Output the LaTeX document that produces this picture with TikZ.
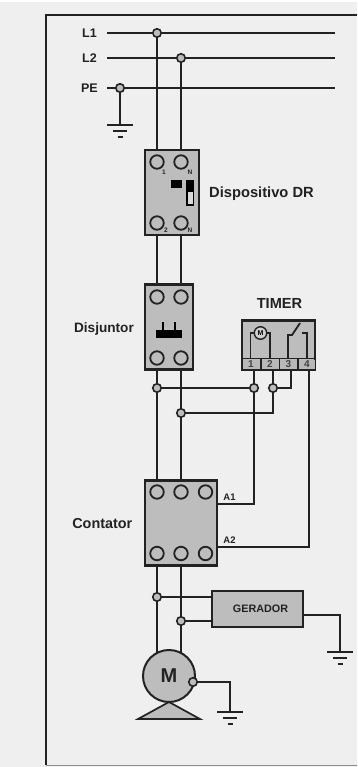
\documentclass[tikz,border=0pt]{standalone}
\usepackage{fontspec}
\setmainfont{Liberation Sans}
\definecolor{bg}{HTML}{EFEFEF}
\definecolor{ink}{HTML}{222222}
\definecolor{fillg}{HTML}{BDBDBD}
\tikzset{
 wire/.style={draw=ink,line width=2pt},
 box/.style={draw=ink,fill=fillg,line width=2.4pt},
 term/.style={circle,draw=ink,fill=fillg,line width=1.8pt,minimum size=13.5pt,inner sep=0pt},
 junc/.style={circle,draw=ink,fill=fillg,line width=1.6pt,minimum size=8.5pt,inner sep=0pt},
 lab/.style={font=\bfseries\fontsize{14.4}{16}\selectfont,text=ink,inner sep=0pt},
 small lab/.style={font=\bfseries\fontsize{12.5}{14}\selectfont,text=ink,inner sep=0pt},
 tiny/.style={font=\bfseries\fontsize{6.5}{7}\selectfont,text=ink,inner sep=0pt},
 tnum/.style={font=\bfseries\fontsize{10}{11}\selectfont,text=ink!85,inner sep=0pt},
}
\newcommand{\gnd}[2]{%
 \draw[wire] (#1-13,#2) -- (#1+13,#2);
 \draw[wire] (#1-7,#2+6) -- (#1+7,#2+6);
 \draw[wire] (#1-2.5,#2+12) -- (#1+2.5,#2+12);}
\begin{document}
\begin{tikzpicture}[x=1pt,y=-1pt]
\useasboundingbox (0,0) rectangle (357,767);
\fill[bg] (0,2) rectangle (357,767);
\draw[ink,line width=2pt] (357,15) -- (46,15) -- (46,765);
\draw[black!45,line width=1pt] (46,765.5) -- (357,765.5);
\coordinate (l1s) at (107,33); \coordinate (l1e) at (335,33);
\coordinate (l2s) at (107,58); \coordinate (l2e) at (335,58);
\coordinate (pes) at (107,88); \coordinate (pee) at (335,88);
\draw[wire] (l1s)--(l1e); \draw[wire] (l2s)--(l2e); \draw[wire] (pes)--(pee);
\node[small lab,anchor=east] (tl1) at (97,33) {L1};
\node[small lab,anchor=east] (tl2) at (97,58) {L2};
\node[small lab,anchor=east] (tpe) at (98,88) {PE};
\draw[wire] (157,33) -- (157,653);
\draw[wire] (181,58) -- (181,653);
\draw[wire] (120,88) -- (120,125);
\gnd{120}{125}
% DR
\node[box,minimum width=54pt,minimum height=85pt,inner sep=0pt] (dr) at (172,192.5) {};
\foreach \x/\y/\n in {157/162/a,181/162/b,157/223/c,181/223/d}{\node[term] (dr\n) at (\x,\y) {};}
\node[tiny] (d1) at (164,172) {1};
\node[tiny] (dn) at (190,172) {N};
\node[tiny] (d2) at (166,230) {2};
\node[tiny] (dn2) at (190,230) {N};
\fill[black] (170.5,180) rectangle (182,188.5);
\draw[black,line width=1.4pt,fill=white!85!black] (187,180.5) rectangle (193.5,205);
\fill[black] (187,180.5) rectangle (193.5,192);
\node[lab,font=\bfseries\fontsize{14.7}{16}\selectfont,anchor=west] (tdr) at (209,193.5) {Dispositivo DR};
% Disjuntor
\node[box,minimum width=48pt,minimum height=85pt,inner sep=0pt] (dj) at (169,327) {};
\foreach \x/\y/\n in {157/297/a,181/297/b,157/358/c,181/358/d}{\node[term] (dj\n) at (\x,\y) {};}
\fill[black] (156,330) rectangle (182,337.5);
\draw[black,line width=1.6pt] (163,322) -- (163,331) (175,322) -- (175,331);
\node[lab,font=\bfseries\fontsize{13.6}{16}\selectfont,anchor=east] (tdj) at (134,329) {Disjuntor};
% Timer wires
\draw[wire] (254,370) -- (254,504) -- (218,504);
\draw[wire] (309,370) -- (309,547) -- (218,547);
\draw[wire] (291,370) -- (291,388) -- (273,388);
\draw[wire] (273,370) -- (273,413) -- (181,413);
\draw[wire] (157,388) -- (254,388);
% Timer
\node[box,minimum width=73.5pt,minimum height=49pt,inner sep=0pt] (tm) at (278.5,345) {};
\fill[black!12!fillg!80!white] (243,359.5) rectangle (315,369);
\draw[ink,line width=1.6pt] (242,358.5) -- (316,358.5);
\draw[ink,line width=1.6pt] (261,358.5) -- (261,369) (279.5,358.5) -- (279.5,369) (298,358.5) -- (298,369);
\node[tnum] (n1) at (251,364.5) {1};
\node[tnum] (n2) at (270,364.5) {2};
\node[tnum] (n3) at (288.5,364.5) {3};
\node[tnum] (n4) at (307,364.5) {4};
\draw[ink,line width=1.8pt] (250.5,358) -- (250.5,333) -- (255,333);
\draw[ink,line width=1.8pt] (270,358) -- (270,333) -- (266,333);
\node[circle,draw=ink,fill=fillg!70!white,line width=1.4pt,minimum size=12.5pt,inner sep=0pt,font=\bfseries\fontsize{7}{7}\selectfont] (tmm) at (260.5,333) {M};
\draw[ink,line width=1.8pt] (288,358) -- (288,335) -- (292,335) -- (300,323);
\draw[ink,line width=1.8pt] (307,358) -- (307,333) -- (302,333);
\node[lab,font=\bfseries\fontsize{14.6}{16}\selectfont] (ttm) at (279.5,303) {TIMER};
% Contactor
\node[box,minimum width=72pt,minimum height=85pt,inner sep=0pt] (ct) at (181,523) {};
\foreach \x/\y/\n in {157/492/a,181/492/b,205.5/492/c,157/553.5/d,181/553.5/e,205.5/553.5/f}{\node[term] (ct\n) at (\x,\y) {};}
\node[lab,font=\bfseries\fontsize{9.5}{11}\selectfont] (ta1) at (229.5,497) {A1};
\node[lab,font=\bfseries\fontsize{9.5}{11}\selectfont] (ta2) at (229.5,540) {A2};
\node[lab,anchor=east] (tct) at (132.5,524) {Contator};
% Gerador
\draw[wire] (157,597) -- (211,597);
\draw[wire] (181,621) -- (211,621);
\draw[wire] (304,615) -- (340,615) -- (340,652);
\gnd{340}{652}
\node[box,minimum width=91pt,minimum height=36pt,inner sep=0pt] (ge) at (257.5,609) {};
\node[font=\bfseries\fontsize{10.8}{12}\selectfont,text=ink,inner sep=0pt] (gt) at (260.5,609) {GERADOR};
% Motor
\draw[wire] (193,682) -- (230,682) -- (230,712);
\gnd{230}{712}
\fill[fillg,draw=ink,line width=1.7pt,line join=miter] (169,702) -- (200,719) -- (138,719) -- cycle;
\node[circle,draw=ink,fill=fillg,line width=2pt,minimum size=52pt,inner sep=0pt,font=\bfseries\fontsize{20}{22}\selectfont,text=ink] (mt) at (169,676) {M};
% junctions
\foreach \x/\y/\n in {157/33/a,181/58/b,120/88/c,157/388/d,254/388/e,273/388/f,181/413/g,157/597/h,181/621/i,193/682/j}{\node[junc] (j\n) at (\x,\y) {};}
\end{tikzpicture}
\end{document}
